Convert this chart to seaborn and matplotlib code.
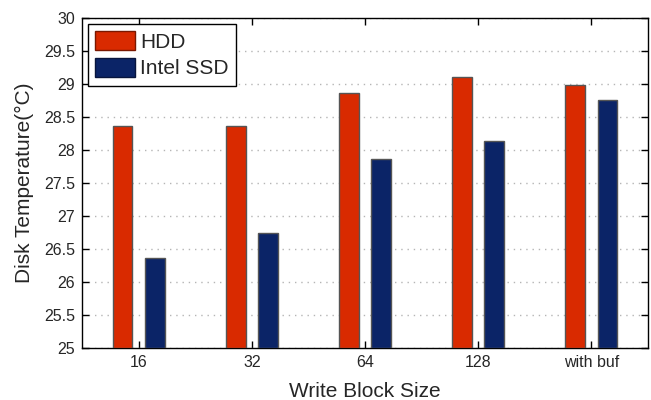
import matplotlib
matplotlib.use("Agg")
import matplotlib.pyplot as plt
import seaborn as sns
import pandas as pd
from matplotlib.patches import Patch

# Measured disk temperatures per write block size
block_sizes = ["16", "32", "64", "128", "with buf"]
hdd_temp = [28.37, 28.37, 28.87, 29.11, 28.99]
ssd_temp = [26.37, 26.74, 27.86, 28.13, 28.76]
series_names = ["HDD", "Intel SSD"]
series_colors = ["#D92A00", "#0B2467"]
y_ticks = [25, 25.5, 26, 26.5, 27, 27.5, 28, 28.5, 29, 29.5, 30]

df = pd.DataFrame({
    "size": block_sizes * 2,
    "temp": hdd_temp + ssd_temp,
    "disk": [series_names[0]] * len(block_sizes) + [series_names[1]] * len(block_sizes),
})

sns.set_style("white")
plt.rcParams["font.family"] = ["Liberation Sans", "DejaVu Sans"]

fig = plt.figure(figsize=(6.51, 4.0), dpi=100)
ax = fig.add_axes([82 / 651, 1 - 348 / 400, 566 / 651, 330 / 400])

sns.barplot(data=df, x="size", y="temp", hue="disk", palette=series_colors,
            order=block_sizes, hue_order=series_names, ax=ax, saturation=1,
            width=0.57, gap=0.39, edgecolor="#555555", linewidth=1.0,
            legend=False, zorder=3)

# grouped bars start from the axis floor, not from zero
for bar in ax.patches:
    top = bar.get_y() + bar.get_height()
    bar.set_y(25)
    bar.set_height(top - 25)

ax.set_xlim(-0.5, 4.5)
ax.set_ylim(25, 30)
ax.set_yticks(y_ticks)
ax.set_yticklabels([f"{t:g}" for t in y_ticks])
ax.set_xticks(range(len(block_sizes)))
ax.set_xticklabels(block_sizes)

ax.yaxis.grid(True, linestyle=(0, (1, 3.5)), color="#b5b5b5", linewidth=1.0, zorder=0)
ax.xaxis.grid(False)
ax.set_axisbelow(True)

for s in ax.spines.values():
    s.set_visible(True)
    s.set_color("black")
    s.set_linewidth(1.0)

ax.tick_params(axis="both", direction="in", length=5, width=1.0, color="black",
               labelsize=11.5, top=True, right=True, bottom=True, left=True, pad=5)

ax.set_xlabel("Write Block Size", fontsize=15, labelpad=9)
ax.set_ylabel("Disk Temperature(°C)", fontsize=15, labelpad=7)

handles = [Patch(facecolor=c, edgecolor=e, label=n)
           for c, e, n in zip(series_colors, ["#7a1800", "#08153d"], series_names)]
leg = ax.legend(handles=handles, loc="upper left", bbox_to_anchor=(6 / 566, 1 - 6 / 330),
                fontsize=15, frameon=True, fancybox=False, framealpha=1,
                edgecolor="black", handlelength=1.9, handleheight=1.0,
                handletextpad=0.25, borderpad=0.35, labelspacing=0.3,
                borderaxespad=0.0)
leg.get_frame().set_linewidth(1.0)

fig.savefig("out.png", dpi=100)
